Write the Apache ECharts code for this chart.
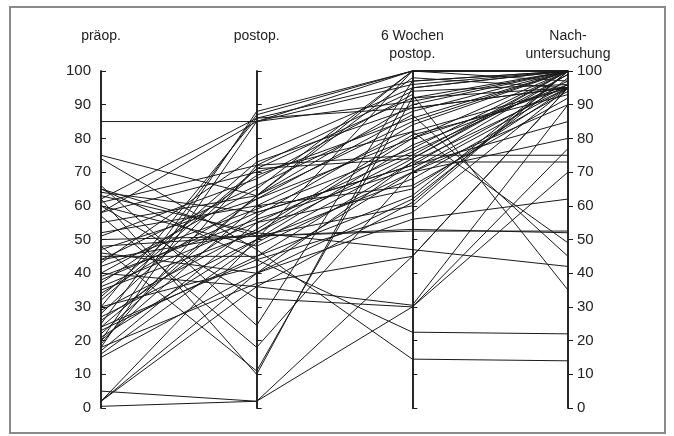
<!DOCTYPE html>
<html>
<head>
<meta charset="utf-8">
<script src="https://cdn.jsdelivr.net/npm/echarts@6/dist/echarts.min.js"></script>
<style>
  html, body { margin: 0; padding: 0; background: #fff; }
  #chart { width: 674px; height: 436px; }
</style>
</head>
<body>
<div id="chart"></div>
<script>
// axis names (one per time point)
const axisNames = ['präop.\n\u00a0', 'postop.\n\u00a0', '6 Wochen\npostop.', 'Nach-\nuntersuchung'];

// one entry per patient
const praeop  = [85, 0.5, 5, 2, 2, 2, 62, 48, 66, 57, 74, 65, 60, 40, 20, 25, 30, 58, 62, 18,
                 48, 50, 65, 63, 45, 44, 22, 24, 20, 28, 19, 33, 17, 38, 15, 51, 47, 58, 35, 27,
                 23, 40, 43, 30, 64, 60, 36, 21, 26, 46, 55, 32, 42, 18, 75, 29,
                 34, 39, 44, 16, 52, 37, 24, 61];
const postop  = [85, 2, 2, 50, 40, 36, 10, 11, 24.5, 18, 47, 44, 32.5, 36, 88, 87, 86, 85, 86, 85,
                 51, 51, 51, 52, 45, 52, 63, 63, 60, 71, 72, 73, 55, 58, 40, 68, 62, 70, 52, 50,
                 45, 65, 75, 42, 58, 48, 55, 50, 57, 40, 63, 71, 59, 37, 63, 53,
                 62, 56, 66, 49, 60, 69, 44, 72];
const wochen6 = [100, 30, 45, 100, 73, 61, 95, 92, 97, 70, 14.5, 22.5, 30, 30.5, 100, 100, 97, 91, 89, 96,
                 53, 52.5, 60, 75, 73, 80, 85, 90, 82, 92, 75, 89, 65, 72, 56, 93, 87, 82, 47, 78,
                 63, 100, 95, 70, 72, 70, 76, 68, 84, 62, 98, 74, 77, 45, 100, 81,
                 80, 71, 88, 74, 66, 86, 58, 94];
const nachunt = [100, 70, 95, 100, 95, 100, 100, 95, 100, 95, 14, 22, 77, 90, 100, 97, 100, 100, 95, 100,
                 52, 52.5, 100, 75, 73, 95, 100, 100, 95, 100, 100, 95, 95, 99, 62, 35, 45, 49, 42, 96,
                 100, 100, 100, 80, 85, 90, 97, 94, 100, 98, 95, 99, 100, 95, 100, 93,
                 100, 96, 100, 100, 92, 100, 95, 96];

const rows = praeop.map((v, i) => [v, postop[i], wochen6[i], nachunt[i]]);

const font = 'Liberation Sans, Arial, sans-serif';
const lineCol = '#1a1a1a';

// idx 0 carries names/labels and ticks on one side, idx 1 adds ticks on the other side
function makeAxis(dim, idx) {
  const withLabel = idx === 0 && (dim === 0 || dim === 3);
  return {
    dim: dim,
    parallelIndex: idx,
    min: 0,
    max: 100,
    interval: 10,
    name: idx === 0 ? axisNames[dim] : '',
    nameLocation: 'end',
    nameGap: 8,
    nameTextStyle: { color: '#222', fontFamily: font, fontSize: 14, lineHeight: 18, align: 'center' },
    axisLine: { lineStyle: { color: lineCol, width: 1.5 } },
    axisTick: { show: true, inside: idx === 0, length: dim === 3 && idx === 1 ? 2 : 5, lineStyle: { color: lineCol, width: 1 } },
    axisLabel: {
      margin: dim === 0 ? -10 : 9,
      align: dim === 0 ? 'right' : 'left',
      color: '#222',
      fontFamily: font,
      fontSize: 15,
      formatter: v => withLabel ? String(v) : ''
    }
  };
}

const axes = [];
for (let idx = 0; idx < 2; idx++) {
  for (let d = 0; d < 4; d++) axes.push(makeAxis(d, idx));
}

const box = { layout: 'horizontal', left: 101, right: 106, top: 71, bottom: 28 };

const chart = echarts.init(document.getElementById('chart'));
chart.setOption({
  animation: false,
  backgroundColor: '#fff',
  parallel: [Object.assign({}, box), Object.assign({}, box)],
  parallelAxis: axes,
  graphic: [{
    type: 'rect',
    shape: { x: 10, y: 7, width: 655, height: 426 },
    style: { fill: 'none', stroke: '#8a8a8a', lineWidth: 2 },
    silent: true
  }],
  series: [{
    type: 'parallel',
    parallelIndex: 0,
    silent: true,
    lineStyle: { color: lineCol, width: 1, opacity: 1 },
    data: rows
  }]
});
</script>
</body>
</html>
